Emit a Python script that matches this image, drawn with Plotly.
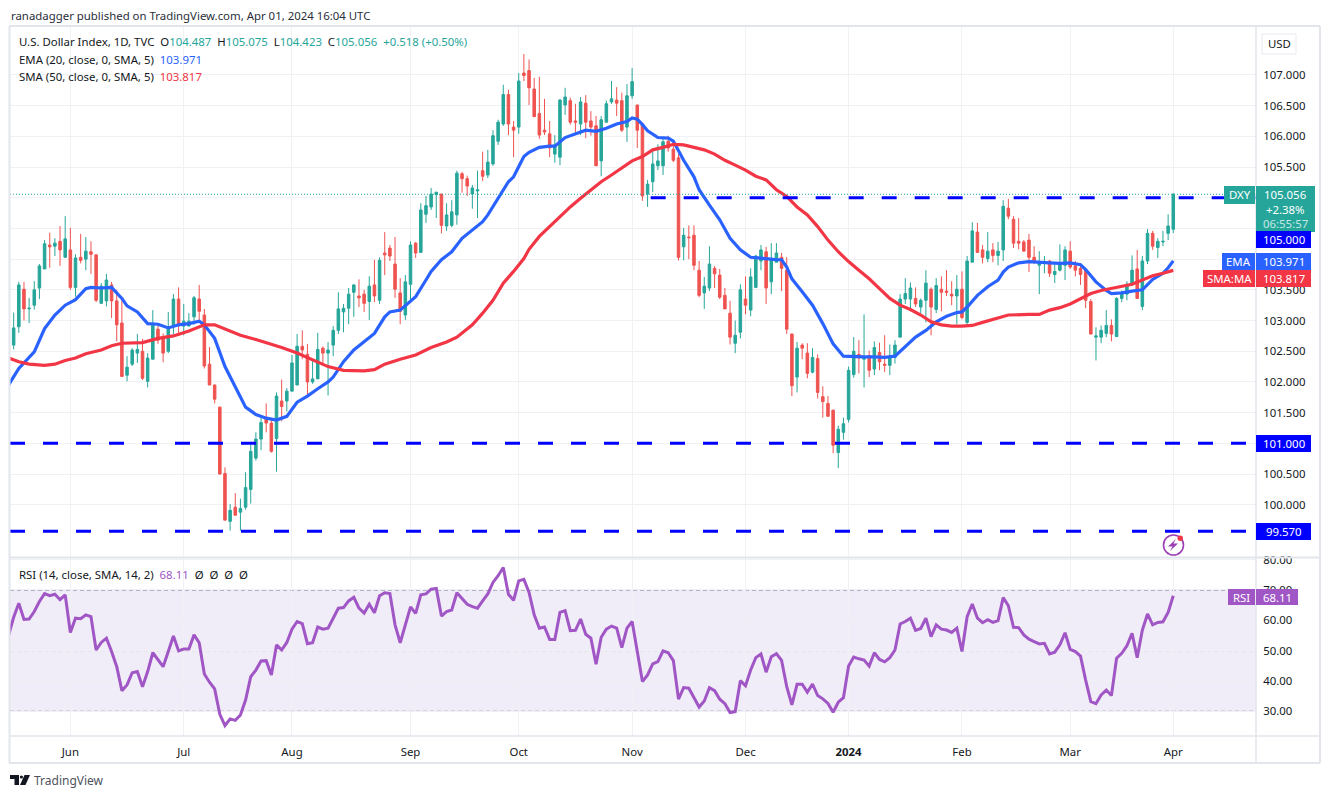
import plotly.graph_objects as go

# ---------- data ----------
bars = list(range(226))
opens = [
102.60,102.90,103.51,103.19,103.25,103.53,103.84,104.23,104.21,104.29,
104.03,104.15,103.54,104.03,104.00,104.12,104.07,103.28,103.32,103.58,
103.32,102.96,102.11,102.29,102.47,102.50,102.01,102.37,102.86,102.71,
102.50,102.93,103.35,102.91,102.91,103.06,103.35,103.09,102.29,101.95,
101.59,100.51,99.73,99.96,99.88,99.96,100.25,100.76,101.07,101.42,
101.33,101.08,101.69,101.69,101.85,101.95,102.58,102.45,102.00,102.05,
102.55,102.47,102.60,102.84,103.14,103.20,103.46,103.40,103.43,103.31,
103.58,103.33,104.10,104.18,103.92,103.45,103.09,103.59,104.26,104.11,
104.73,104.85,105.05,105.06,104.54,104.55,104.72,105.39,105.31,105.06,
105.11,105.44,105.37,105.55,105.92,106.20,106.68,106.15,106.15,107.03,
107.07,106.77,106.37,106.10,106.04,105.71,105.66,106.51,106.58,106.25,
106.20,106.54,106.25,106.17,105.60,106.23,106.56,106.59,106.58,106.15,
106.66,106.51,106.20,105.06,105.26,105.52,105.52,105.92,105.79,105.65,
104.20,104.36,104.39,103.82,103.45,103.53,103.85,103.74,103.41,103.12,
102.63,102.81,103.35,103.17,103.54,103.97,104.12,103.63,103.95,104.03,
103.82,102.78,102.08,102.60,102.47,102.16,102.38,101.76,101.65,101.54,
100.85,101.18,101.39,102.12,102.45,102.37,102.43,102.21,102.48,102.29,
102.27,102.40,102.73,103.35,103.35,103.36,103.22,103.33,103.51,103.18,
103.51,103.48,103.43,103.40,103.51,102.97,103.95,104.44,104.15,104.01,
104.15,104.06,104.15,104.83,104.65,104.29,104.28,104.31,104.03,103.90,
103.93,103.97,103.75,103.82,103.90,104.13,103.89,103.85,103.82,103.31,
102.73,102.73,102.79,102.92,102.74,103.36,103.43,103.58,103.84,103.23,
103.97,104.42,104.19,104.28,104.42,104.487]
highs = [
103.13,103.63,103.63,103.37,103.64,103.92,104.31,104.43,104.34,104.54,
104.70,104.51,104.08,104.41,104.36,104.29,104.07,103.61,103.76,103.63,
103.50,103.38,102.42,102.55,102.78,102.70,102.47,103.17,102.92,102.79,
103.14,103.43,103.54,103.27,103.12,103.40,103.58,103.19,102.57,101.96,
101.60,100.61,100.01,100.19,100.10,100.53,100.98,101.18,101.44,101.65,
101.39,101.83,102.04,101.90,102.44,102.78,102.84,102.62,102.38,102.80,
102.58,102.65,102.91,103.46,103.27,103.53,103.59,103.67,103.50,103.72,
103.99,104.03,104.44,104.23,104.36,103.69,103.74,104.29,104.28,104.91,
105.03,105.16,105.09,105.06,104.91,104.96,105.44,105.42,105.36,105.21,
105.44,105.75,105.78,106.10,106.27,106.84,106.76,106.25,107.03,107.34,
107.25,106.95,106.97,106.61,106.25,106.02,106.61,106.79,106.63,106.53,
106.64,106.67,106.41,106.33,106.33,106.58,106.90,106.80,106.71,106.85,
107.11,106.51,106.22,105.29,105.78,105.87,105.97,106.01,105.94,105.71,
104.51,104.55,104.55,103.97,103.71,104.21,103.89,103.84,103.53,103.32,
103.00,103.59,103.72,103.85,104.07,104.23,104.20,104.26,104.26,104.10,
104.03,102.79,102.65,102.63,102.63,102.55,102.45,101.93,101.77,101.55,
101.29,101.42,102.25,102.73,102.68,103.10,102.51,102.66,102.64,102.76,
102.61,102.68,103.43,103.69,103.62,103.54,103.36,103.82,103.54,103.69,
103.72,103.82,103.64,103.74,103.80,104.05,104.60,104.59,104.23,104.44,
104.26,104.28,104.96,104.98,104.70,104.67,104.31,104.41,104.21,104.13,
104.05,103.98,103.95,104.24,104.21,104.29,103.97,103.93,103.85,103.35,
102.89,102.92,103.17,103.02,103.38,103.49,103.64,104.06,104.15,104.05,
104.49,104.46,104.34,104.46,104.73,105.075]
lows = [
102.53,102.80,103.00,102.96,103.18,103.35,103.84,103.86,104.05,103.89,
104.02,103.50,103.39,103.93,103.82,103.76,103.30,103.28,103.23,103.04,
102.66,102.09,102.01,102.26,102.31,102.03,101.91,102.37,102.62,102.32,
102.47,102.78,102.75,102.76,102.91,102.93,103.01,102.22,101.95,101.65,
100.50,99.75,99.58,99.83,99.58,99.92,100.02,100.72,100.89,101.18,
100.85,100.54,101.36,101.52,101.85,101.95,102.37,101.76,101.97,102.05,
102.27,101.78,102.42,102.78,102.81,102.94,103.06,103.22,103.14,103.01,
103.30,103.27,103.74,103.97,103.37,102.94,103.01,103.33,104.02,104.11,
104.59,104.80,104.67,104.42,104.46,104.52,104.56,105.08,105.03,104.82,
104.67,105.27,105.32,105.52,105.86,106.17,106.02,105.66,106.04,106.90,
106.51,106.32,105.96,106.02,105.66,105.57,105.53,106.35,106.19,106.02,
106.02,105.97,106.01,105.52,105.35,106.23,106.53,106.33,106.07,105.91,
106.61,105.81,104.95,104.85,105.09,105.45,105.37,105.75,105.58,103.98,
103.98,104.00,103.82,103.38,103.19,103.48,103.53,103.35,103.19,102.61,
102.47,102.71,103.10,103.07,103.54,103.82,103.27,103.43,103.95,103.48,
102.78,101.77,101.83,102.37,102.06,102.14,101.73,101.42,101.44,100.84,
100.60,101.06,101.34,102.07,102.14,101.91,102.08,102.11,102.19,102.16,
102.11,102.30,102.73,103.27,103.15,103.22,103.12,102.97,102.76,103.12,
103.15,103.40,103.25,102.94,103.02,102.92,103.95,104.11,103.93,103.95,
103.95,103.90,103.97,104.65,104.18,104.16,104.13,103.79,103.92,103.43,
103.77,103.71,103.61,103.80,103.66,103.84,103.72,103.58,103.20,102.78,
102.35,102.63,102.73,102.66,102.73,103.30,103.33,103.58,103.36,103.17,
103.92,104.15,104.02,104.21,104.31,104.423]
closes = [
102.88,103.58,103.19,103.20,103.50,103.89,104.25,104.20,104.26,104.15,
104.33,103.54,104.02,103.98,104.13,104.08,103.33,103.56,103.66,103.32,
102.93,102.09,102.24,102.52,102.53,102.06,102.39,102.92,102.68,102.47,
102.89,103.35,102.93,102.99,102.99,103.37,103.15,102.26,101.95,101.72,
100.50,99.75,99.91,99.83,99.94,100.28,100.87,101.07,101.34,101.33,
100.87,101.77,101.60,101.85,102.31,102.58,102.52,102.00,102.05,102.53,
102.47,102.52,102.84,103.19,103.20,103.43,103.58,103.37,103.28,103.56,
103.40,103.98,104.07,104.05,103.51,103.15,103.63,104.23,104.10,104.80,
104.87,105.06,105.09,104.55,104.72,104.77,105.40,105.31,105.19,105.16,
105.13,105.35,105.58,106.01,106.23,106.68,106.20,106.10,106.90,106.99,
106.79,106.32,106.02,106.07,105.81,105.86,106.59,106.64,106.23,106.23,
106.56,106.23,106.15,105.52,106.27,106.53,106.61,106.54,106.10,106.66,
106.89,106.10,105.03,105.22,105.55,105.60,105.91,105.81,105.61,104.03,
104.39,104.35,103.90,103.41,103.56,103.92,103.76,103.38,103.19,102.73,
102.76,103.50,103.25,103.71,104.05,104.15,103.53,104.00,104.10,103.85,
102.86,101.94,102.55,102.55,102.14,102.40,101.83,101.68,101.44,100.97,
101.23,101.32,102.19,102.50,102.39,102.40,102.19,102.56,102.33,102.27,
102.40,102.60,103.35,103.44,103.53,103.27,103.33,103.61,103.22,103.57,
103.46,103.46,103.40,103.51,103.05,103.97,104.46,104.11,104.03,104.13,
104.06,104.13,104.86,104.70,104.26,104.26,104.13,104.03,103.95,103.95,
103.95,103.77,103.80,103.92,104.15,103.87,103.82,103.75,103.33,102.78,
102.75,102.84,102.92,102.78,103.36,103.44,103.59,103.82,103.36,103.97,
104.42,104.21,104.29,104.29,104.54,105.056]

ema_bars = [-1,1,4,6,8,10,12,14,15,17,19,21,22,24,26,28,30,32,34,36,37,39,41,43,45,47,49,51,53,55,
57,59,61,62,64,66,68,70,72,73,75,77,78,80,81,83,85,87,89,91,92,94,96,97,99,100,102,
104,105,107,109,111,113,115,117,119,120,121,122,123,125,127,128,130,132,133,135,137,139,141,143,145,147,148,
149,150,151,153,155,157,159,161,163,165,167,169,171,173,175,177,179,181,183,184,185,187,189,191,
192,193,195,197,199,201,203,205,207,208,210,212,213,215,217,219,221,223,224,225]
ema_values = [101.95,102.22,102.49,102.87,103.09,103.25,103.34,103.52,103.54,103.53,103.54,103.36,103.24,103.14,102.95,102.94,102.88,102.93,102.95,102.99,102.93,102.71,102.25,101.92,101.59,101.47,101.41,101.38,101.44,101.67,
101.77,101.89,102.00,102.08,102.33,102.52,102.65,102.79,103.06,103.14,103.17,103.31,103.39,103.66,103.80,103.99,104.12,104.34,104.47,104.61,104.72,104.99,105.26,105.34,105.67,105.74,105.82,
105.84,105.84,105.98,106.04,106.10,106.08,106.13,106.20,106.24,106.30,106.28,106.19,106.09,105.98,105.97,105.92,105.61,105.34,105.13,104.88,104.64,104.34,104.15,104.03,104.02,104.00,103.99,
103.99,103.87,103.68,103.47,103.25,102.95,102.62,102.42,102.41,102.41,102.41,102.40,102.42,102.57,102.73,102.84,102.98,103.07,103.13,103.14,103.22,103.41,103.55,103.66,
103.79,103.87,103.94,103.96,103.945,103.94,103.93,103.94,103.91,103.83,103.63,103.49,103.44,103.45,103.48,103.50,103.67,103.77,103.86,103.971]

sma_bars = [-1,1,3,6,8,10,12,14,17,19,21,25,28,31,34,37,39,41,44,47,50,52,55,
58,61,64,68,70,72,75,78,81,84,86,89,91,93,95,97,99,100,102,
104,106,108,110,112,114,116,118,120,122,124,126,128,130,132,134,136,138,140,142,144,146,148,
150,152,154,156,158,160,162,164,166,168,170,172,174,176,178,180,182,184,186,188,191,
193,197,199,201,203,205,207,209,211,213,215,217,219,221,223,225]
sma_values = [102.39,102.33,102.29,102.27,102.29,102.35,102.39,102.46,102.52,102.59,102.63,102.64,102.71,102.75,102.83,102.93,102.93,102.86,102.76,102.69,102.62,102.56,102.47,
102.36,102.25,102.19,102.18,102.20,102.29,102.37,102.44,102.56,102.65,102.73,102.93,103.12,103.33,103.61,103.80,104.01,104.16,104.37,
104.53,104.69,104.85,104.99,105.13,105.26,105.37,105.48,105.60,105.67,105.78,105.82,105.87,105.86,105.82,105.78,105.71,105.61,105.53,105.45,105.35,105.29,105.13,
105.02,104.85,104.72,104.53,104.31,104.12,103.96,103.82,103.68,103.52,103.36,103.25,103.18,103.09,102.98,102.93,102.91,102.91,102.92,102.97,103.05,
103.09,103.10,103.10,103.17,103.21,103.27,103.35,103.44,103.49,103.52,103.56,103.59,103.66,103.73,103.77,103.817]

rsi_bars = list(range(-1, 226))
rsi_values = [55.0,61.0,
65.6,60.3,60.4,62.9,66.2,68.8,68.1,68.6,66.8,68.4,56.0,60.7,60.5,61.8,61.2,50.2,52.7,54.1,
49.7,44.7,36.8,38.7,42.7,43.1,38.1,43.1,49.3,47.1,44.7,49.7,54.8,49.9,50.5,50.5,55.2,52.6,42.3,39.6,
37.4,29.0,25.3,27.5,27.0,28.8,33.7,41.4,43.6,46.6,46.7,42.0,51.9,50.2,52.7,57.1,59.6,58.9,52.3,52.6,
57.8,57.1,57.4,60.7,64.0,64.2,66.4,67.6,64.0,62.4,65.3,62.5,68.1,69.1,68.8,58.5,52.6,58.5,64.4,62.3,
68.4,68.7,70.3,70.5,61.4,62.9,63.4,69.1,67.3,65.3,64.5,64.0,66.4,68.7,72.5,74.7,77.4,68.6,66.6,73.0,
73.5,69.2,61.8,57.4,57.8,53.7,53.7,62.6,63.2,56.6,56.7,60.4,55.4,54.1,45.5,54.4,57.1,58.1,57.4,51.0,
57.4,59.6,49.7,39.8,42.0,45.6,46.4,49.9,49.3,46.7,34.0,37.8,37.6,34.5,31.4,33.4,37.8,36.8,34.0,32.5,
29.6,29.9,40.1,38.4,43.6,47.7,48.9,42.9,48.0,49.0,46.8,38.1,32.1,38.9,38.9,36.3,39.0,35.2,34.1,32.6,
29.7,33.0,34.5,44.9,47.9,47.3,46.9,44.9,49.3,47.1,46.3,47.7,50.2,58.8,59.6,60.7,56.7,57.3,60.7,54.6,
58.5,57.1,56.8,56.0,57.4,49.7,61.2,65.4,60.7,59.2,60.2,59.3,59.9,67.5,64.8,57.7,57.6,55.2,53.8,53.0,
52.2,52.4,48.9,49.5,51.9,55.9,50.4,49.7,48.2,40.3,33.2,32.5,35.4,37.0,35.2,47.5,49.1,51.6,55.7,47.7,
56.8,62.1,58.5,59.3,59.5,62.6,68.11]

month_bars = [11,33,54,77,98,120,142,162,184,205,225]
month_labels = ["Jun","Jul","Aug","Sep","Oct","Nov","Dec","<b>2024</b>","Feb","Mar","Apr"]
price_ticks = [100.0,100.5,101.0,101.5,102.0,102.5,103.0,103.5,104.0,104.5,105.0,105.5,106.0,106.5,107.0]
# the price scale labels that the value tags cover in the reference stay unwritten
price_tick_labels = ["100.000","100.500","","101.500","102.000","102.500","103.000","103.500","","","","105.500","106.000","106.500","107.000"]
rsi_ticks = [30,40,50,60,70,80]
levels = [105.0,101.0,99.57]
last_close = 105.056

# ---------- styles ----------
UP, DOWN = "#26a69a", "#ef5350"
BLUE, RED, LEVEL, PURPLE = "#2962ff", "#f23645", "#0000ff", "#a056c5"
GRID, FRAME, TXT = "#f0f1f5", "#e3e5ec", "#131722"
FONT = "Noto Sans"
FS = 11.4
L, R, T, B = 10, 1256, 27, 736
def X(x): return (x - L) / (R - L)
def Y(y): return (B - y) / (B - T)

fig = go.Figure()
fig.add_trace(go.Candlestick(x=bars, open=opens, high=highs, low=lows, close=closes,
    increasing=dict(line=dict(color=UP, width=1), fillcolor=UP),
    decreasing=dict(line=dict(color=DOWN, width=1), fillcolor=DOWN),
    whiskerwidth=0, xaxis="x", yaxis="y", hoverinfo="skip", showlegend=False))
fig.add_trace(go.Scatter(x=ema_bars, y=ema_values, mode="lines", line=dict(color=BLUE, width=3.2),
    xaxis="x", yaxis="y", hoverinfo="skip", showlegend=False, cliponaxis=True))
fig.add_trace(go.Scatter(x=sma_bars, y=sma_values, mode="lines", line=dict(color=RED, width=3.2),
    xaxis="x", yaxis="y", hoverinfo="skip", showlegend=False))
fig.add_trace(go.Scatter(x=rsi_bars, y=rsi_values, mode="lines", line=dict(color=PURPLE, width=3),
    xaxis="x2", yaxis="y2", hoverinfo="skip", showlegend=False))

shapes = []
# RSI band and levels
shapes.append(dict(type="rect", xref="x2", yref="y2", x0=-0.71, x1=241.05, y0=30, y1=70,
                   fillcolor="rgba(126,87,194,0.115)", line_width=0, layer="below"))
for v, col in [(70, "#787b86"), (50, "#a9abb3"), (30, "#787b86")]:
    shapes.append(dict(type="line", xref="x2", yref="y2", x0=-0.71, x1=241.05, y0=v, y1=v,
                       line=dict(color=col, width=1, dash="4px,3px"), layer="below"))
# last price dotted line
shapes.append(dict(type="line", xref="x", yref="y", x0=-0.71, x1=241.05, y0=last_close, y1=last_close,
                   line=dict(color=UP, width=1, dash="1px,2px")))
# support / resistance levels
shapes.append(dict(type="line", xref="x", yref="y", x0=123.6, x1=241.05, y0=levels[0], y1=levels[0],
                   line=dict(color=LEVEL, width=3, dash="15px,18px")))
for v in levels[1:]:
    shapes.append(dict(type="line", xref="x", yref="y", x0=-0.71, x1=241.05, y0=v, y1=v,
                       line=dict(color=LEVEL, width=3, dash="15px,18px")))
# frame
for x0, y0, x1, y1, w in [(9.5,26,9.5,763,2),(9,26,1320,26,2),(1320,26,1320,763,2),(9,763,1320,763,2),
                          (1256,26,1256,763,1.5),(10,736,1320,736,1.5),(10,557.5,1320,557.5,2)]:
    shapes.append(dict(type="line", xref="paper", yref="paper", x0=X(x0), x1=X(x1), y0=Y(y0), y1=Y(y1),
                       line=dict(color=FRAME, width=w)))

def box(x0, y0, x1, y1, fill):
    shapes.append(dict(type="rect", xref="paper", yref="paper", x0=X(x0), x1=X(x1), y0=Y(y0), y1=Y(y1),
                       fillcolor=fill, line_width=0))

annotations = []
def text(s, x, y, color=TXT, size=FS, anchor="left"):
    annotations.append(dict(text=s, x=X(x), y=Y(y), xref="paper", yref="paper", xanchor=anchor, yanchor="middle",
                            showarrow=False, borderpad=0, font=dict(family=FONT, size=size, color=color)))

# currency button
shapes.append(dict(type="rect", xref="paper", yref="paper", x0=X(1262), x1=X(1296), y0=Y(54), y1=Y(34),
                   fillcolor="white", line=dict(color="#e8eaf0", width=1)))
text("USD",1279,44,TXT,FS,"center")

# axis-side labels
box(1224,186,1255,204,UP);  text("DXY",1239.5,195,"white",FS,"center")
box(1256,186,1315,232,UP)
text("105.056",1285,195,"white",FS,"center")
text("+2.38%",1285,209,"white",FS,"center")
text("06:55:57",1285,223,"#c4e8e4",FS,"center")
box(1256,231,1311,248,LEVEL); text("105.000",1283.5,239.5,"white",FS,"center")
box(1222,253,1255,270,BLUE);  text("EMA",1238.5,261.5,"white",FS,"center")
box(1256,253,1311,270,BLUE);  text("103.971",1283.5,261.5,"white",FS,"center")
box(1203,270,1255,287,RED);   text("SMA:MA",1229,278.5,"white",FS,"center")
box(1256,270,1311,287,RED);   text("103.817",1283.5,278.5,"white",FS,"center")
box(1256,435,1311,452,LEVEL); text("101.000",1283.5,443.5,"white",FS,"center")
box(1256,523,1311,540,LEVEL); text("99.570",1283.5,531.5,"white",FS,"center")
box(1228,589,1255,605,PURPLE); text("RSI",1241.5,597,"white",FS,"center")
box(1256,589,1298,605,PURPLE); text("68.11",1277,597,"white",FS,"center")

# top texts
text("ranadagger published on TradingView.com, Apr 01, 2024 16:04 UTC",10,15,"#2a2e39",FS)
g = lambda s: f'<span style="color:{UP}">{s}</span>'
text("U.S. Dollar Index, 1D, TVC  O"+g("104.487")+"  H"+g("105.075")+"  L"+g("104.423")+"  C"+g("105.056")+"  "+g("+0.518 (+0.50%)"),18,42,TXT,FS)
text(f'EMA (20, close, 0, SMA, 5)  <span style="color:{BLUE}">103.971</span>',18,59,TXT,FS)
text(f'SMA (50, close, 0, SMA, 5)  <span style="color:{RED}">103.817</span>',18,76,TXT,FS)
text(f'RSI (14, close, SMA, 14, 2)  <span style="color:{PURPLE}">68.11</span>  Ø  Ø  Ø  Ø',18,574,TXT,FS)

# lightning badge
shapes.append(dict(type="circle", xref="paper", yref="paper", x0=X(1163.5), x1=X(1183.5), y0=Y(555), y1=Y(535),
                   line=dict(color="#9c3fb5", width=1.6), fillcolor="white"))
def path(points):
    return "M " + " L ".join(f"{X(px):.5f},{Y(py):.5f}" for px, py in points) + " Z"
shapes.append(dict(type="path", xref="paper", yref="paper",
                   path=path([(1176,539),(1168,546.5),(1172.5,546.5),(1170,551),(1178,543.5),(1173.5,543.5)]),
                   fillcolor="#9c3fb5", line_width=0))
shapes.append(dict(type="circle", xref="paper", yref="paper", x0=X(1177.5), x1=X(1183), y0=Y(541), y1=Y(535.5),
                   fillcolor=RED, line_width=0))

# TradingView logo
logo = "#131722"
shapes.append(dict(type="path", xref="paper", yref="paper",
                   path=path([(10,775),(19,775),(19,785),(14.5,785),(14.5,779),(10,779)]), fillcolor=logo, line_width=0))
shapes.append(dict(type="circle", xref="paper", yref="paper", x0=X(19.8), x1=X(23), y0=Y(778.6), y1=Y(775.4),
                   fillcolor=logo, line_width=0))
shapes.append(dict(type="path", xref="paper", yref="paper",
                   path=path([(24.5,775),(30,775),(25.5,785),(20,785)]), fillcolor=logo, line_width=0))
text("TradingView",33,780.5,"#50535e",12)

axis_common = dict(showline=False, zeroline=False, gridcolor=GRID, gridwidth=1, tickfont=dict(family=FONT, size=FS, color=TXT))
fig.update_layout(
    width=1329, height=798, autosize=False, paper_bgcolor="white", plot_bgcolor="white",
    margin=dict(l=L, r=1329-R, t=T, b=798-B, autoexpand=False, pad=0),
    showlegend=False, hovermode=False, dragmode=False,
    shapes=shapes, annotations=annotations,
    xaxis=dict(domain=[0,1], range=[-0.71,241.05], anchor="y", tickmode="array", tickvals=month_bars,
               showticklabels=False, ticks="", rangeslider=dict(visible=False), **axis_common),
    yaxis=dict(domain=[0.2525,1], range=[99.15,107.78], side="right", anchor="x", tickmode="array",
               tickvals=price_ticks, ticktext=price_tick_labels,
               ticks="outside", ticklen=4, tickcolor="rgba(0,0,0,0)", **axis_common),
    xaxis2=dict(domain=[0,1], range=[-0.71,241.05], anchor="y2", matches="x", tickmode="array", tickvals=month_bars,
                ticktext=month_labels, ticks="outside", ticklen=5, tickcolor="rgba(0,0,0,0)", tickangle=0, **axis_common),
    yaxis2=dict(domain=[0,0.2511], range=[21.85,80.56], side="right", anchor="x2", tickmode="array",
                tickvals=rsi_ticks, ticktext=[f"{v:.2f}" for v in rsi_ticks],
                ticks="outside", ticklen=4, tickcolor="rgba(0,0,0,0)", **axis_common),
)
fig.write_html("out.html", config=dict(displayModeBar=False, responsive=False),
               post_script="document.body.style.margin='0';document.body.style.overflow='hidden';")
